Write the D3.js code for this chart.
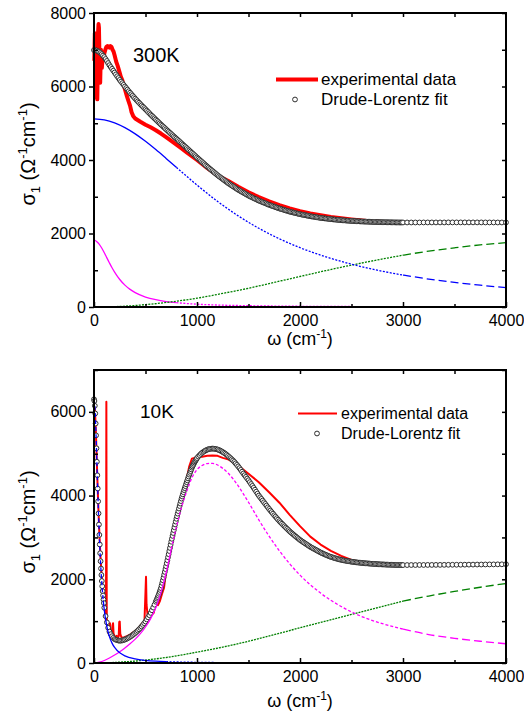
<!DOCTYPE html>
<html>
<head>
<meta charset="utf-8">
<script src="https://cdn.jsdelivr.net/npm/d3@7"></script>
<style>
  body { margin: 0; background: #fff; }
  text { font-family: Arial, "Liberation Sans", sans-serif; fill: #000; }
</style>
</head>
<body>
<svg id="chart" width="524" height="715"></svg>
<script>
// ---------- 300K panel data ----------
var expTopW = [3,8,12,16,20,24,28,32,36,40,44,48,52,56,60,64,68,72,76,80,85,90,95,100,110,120,130,140,150,160,170,180,190,200,215,230,245,260,275,290,305,320,335,350,365,380,400,450,500,550,600,650,700,750,800,850,900,950,1000,1100,1200,1300,1400,1500,1600,1700,1800,1900,2000,2100,2200,2300,2400,2500,2600,2700,2800,2900,3000];
var expTopS = [6700,7450,6600,5700,6900,7300,6200,5650,6400,7500,7700,7600,7000,6300,6100,6600,7000,6800,6500,6650,6850,6750,6800,6900,7000,7080,7100,7090,7060,7100,7080,7000,6950,6850,6680,6560,6420,6270,6170,6020,5880,5730,5600,5480,5300,5200,5130,5040,4960,4890,4810,4720,4620,4520,4420,4315,4210,4105,4000,3780,3580,3435,3270,3120,2990,2875,2770,2680,2605,2545,2495,2450,2413,2382,2352,2328,2313,2303,2300];

// Drude-Lorentz fit: every 12.5 cm-1 below 3000, every 40 cm-1 above
var fitTopW = d3.range(0, 3000, 12.5).concat(d3.range(3000, 4001, 40));
var fitTopS = [
  6990,6987,6980,6962,6940,6911,6880,6842,6800,6748,6695,6638,6580,6530,6480,6430,6380,6330,6280,6230,
  6180,6135,6090,6045,6000,5958,5915,5872,5830,5790,5750,5710,5670,5632,5595,5558,5520,5485,5450,5415,
  5380,5344,5308,5272,5235,5202,5168,5134,5100,5066,5032,4998,4965,4932,4900,4868,4835,4802,4770,4738,
  4705,4674,4642,4611,4580,4548,4516,4484,4452,4420,4388,4356,4325,4293,4261,4229,4197,4165,4133,4102,
  4070,4038,4007,3976,3945,3914,3882,3851,3820,3790,3760,3731,3702,3672,3643,3614,3585,3558,3532,3506,
  3480,3454,3427,3401,3375,3352,3328,3305,3282,3259,3236,3213,3190,3170,3150,3130,3110,3090,3070,3050,
  3030,3013,2996,2979,2962,2946,2929,2912,2895,2880,2866,2852,2838,2824,2809,2794,2780,2768,2755,2742,
  2730,2718,2705,2692,2680,2670,2659,2648,2638,2627,2616,2606,2595,2586,2578,2569,2560,2552,2543,2534,
  2525,2518,2511,2504,2498,2491,2484,2477,2470,2464,2459,2454,2448,2442,2436,2430,2425,2420,2416,2412,
  2408,2404,2399,2394,2390,2386,2383,2380,2376,2373,2370,2366,2363,2360,2358,2355,2352,2350,2347,2344,
  2342,2340,2338,2336,2334,2332,2331,2329,2327,2326,2324,2323,2322,2320,2319,2318,2316,2315,2314,2313,
  2312,2311,2310,2309,2308,2308,2307,2306,2306,2305,2304,2304,2303,2302,2302,2301,2301,2300,2300,2300,
  2300,2300,2300,2300,2300,2301,2301,2301,2301,2301,2301,2302,2302,
  2302,2302,2302,2302,2302,2302,2302,2301,2301,2301,2300,2300,2300];

var drudeTopW = [0,100,200,300,400,500,600,700,800,900,1000,1200,1400,1600,1800,2000,2250,2500,2750,3000,3250,3500,3750,4000];
var drudeTopS = [5120,5092,5011,4881,4711,4508,4283,4044,3800,3556,3318,2873,2480,2142,1856,1614,1366,1165,1002,869,760,669,593,528];
var drude2TopW = [0,25,50,75,100,125,150,175,200,250,300,350,400,500,600,700,800,1000,1250,1500,2000,2500,3000,3500,4000];
var drude2TopS = [1830,1785,1713,1605,1476,1336,1199,1068,950,749,596,479,391,271,198,149,117,76,50,35,20,13,9,7,5];
var lorTopW = [0,250,500,750,1000,1250,1500,1750,2000,2250,2500,2750,3000,3250,3500,3750,4000];
var lorTopS = [0,15,65,140,240,370,510,670,830,990,1140,1280,1410,1520,1610,1690,1750];

// ---------- 10K panel data ----------
var expBotW = [8,12,16,20,24,28,32,36,40,44,48,52,56,60,64,68,72,76,80,84,88,92,96,100,104,108,112,116,118,120,122,124,128,132,136,140,145,150,155,160,165,170,175,180,185,190,200,210,220,230,240,245,250,255,265,280,300,320,350,380,410,440,470,490,500,505,510,520,540,560,580,600,620,640,660,680,700,750,800,850,900,925,950,975,1000,1050,1100,1150,1200,1250,1300,1400,1500,1600,1700,1800,1900,2000,2100,2200,2300,2400,2500,2600,2700,2800,2900,3000];
var expBotS = [6150,5900,5650,5380,5080,4760,4450,4150,3870,3600,3340,3100,2880,2680,2500,2330,2180,2040,1910,1790,1680,1580,1490,1400,1300,1200,1100,1000,3000,6240,3000,960,900,820,760,720,700,680,950,700,640,620,640,900,950,700,640,620,650,600,640,980,990,700,620,600,620,640,680,730,790,860,950,1000,1700,2060,1400,1150,1100,1150,1200,1450,1380,1480,1650,1800,2200,2800,3400,3950,4400,4700,4880,4900,4920,4930,4950,4960,4950,4900,4870,4720,4520,4320,4080,3830,3540,3270,3020,2830,2680,2560,2460,2400,2375,2360,2350,2345];

var fitBotW = d3.range(0, 100, 4)
  .concat(d3.range(100, 600, 12.5))
  .concat(d3.range(600, 1000, 6.25))
  .concat(d3.range(1000, 3000, 12.5))
  .concat(d3.range(3000, 4001, 40));
var fitBotS = [
  // 0 - 96
  6300,6260,6145,5962,5722,5438,5130,4808,4485,4167,3862,3574,3308,3060,2831,2623,2432,2257,2103,1959,1835,1717,1613,1517,1431,
  // 100 - 587.5
  1320,1120,970,840,750,688,640,600,571,555,545,537,532,535,540,549,560,574,590,607,
  626,646,668,692,717,744,773,804,837,872,910,950,992,1040,1090,1142,1197,1260,1325,1393,
  // 600 - 993.75
  1463,1500,1536,1573,1610,1652,1697,1743,1790,1850,1913,1977,2040,2108,2176,2244,
  2312,2384,2456,2528,2600,2675,2749,2824,2898,2967,3037,3106,3175,3243,3310,3378,
  3445,3506,3568,3629,3690,3750,3809,3868,3927,3978,4029,4080,4130,4177,4225,4272,
  4319,4364,4410,4455,4500,4542,4584,4625,4667,4698,4729,4760,4790,4817,4843,4870,
  // 1000 - 2987.5
  4896,4932,4965,4996,5024,5046,5065,5083,5098,5108,5115,5120,5122,5120,5115,5109,5101,5089,5075,5058,
  5040,5021,5000,4976,4949,4922,4895,4867,4838,4805,4770,4734,4697,4656,4614,4570,4527,4487,4447,4407,
  4366,4321,4276,4231,4186,4140,4093,4046,4000,3960,3920,3880,3840,3800,3760,3720,3680,3642,3605,3568,
  3530,3495,3460,3425,3390,3359,3328,3296,3265,3235,3205,3175,3145,3118,3092,3066,3040,3015,2990,2965,
  2940,2919,2898,2878,2857,2836,2816,2796,2775,2758,2741,2724,2708,2691,2674,2657,2640,2626,2612,2598,
  2585,2572,2558,2546,2535,2525,2515,2506,2497,2488,2480,2472,2465,2458,2452,2446,2440,2435,2430,2425,
  2420,2416,2412,2408,2404,2400,2397,2394,2390,2388,2385,2382,2380,2378,2375,2372,2370,2368,2366,2364,
  2362,2360,2358,2356,2355,2354,2352,2350,2349,2348,2347,2346,2345,2344,2343,2342,2342,2341,2341,2340,
  // 3000 - 4000
  2340,2340,2341,2341,2342,2342,2343,2343,2344,2344,2345,2346,2347,
  2347,2348,2349,2350,2351,2352,2353,2354,2355,2356,2357,2358,2360];

var drudeBotW = [0,10,20,30,40,50,60,70,80,90,100,125,150,175,200,250,300,400,500,600,700,800,1000,1500,2000,2500,3000,3500,4000];
var drudeBotS = [6300,6058,5431,4632,3841,3150,2582,2128,1770,1486,1260,869,630,475,371,242,170,97,62,43,32,25,16,7,4,3,2,1,1];
var lorBotW = [0,50,100,150,200,250,300,350,400,450,500,550,600,650,700,750,800,850,900,950,1000,1050,1100,1150,1200,1250,1300,1350,1400,1450,1500,1600,1700,1800,1900,2000,2200,2400,2600,2800,3000,3250,3500,3750,4000];
var lorBotS = [0,20,60,120,190,270,360,460,570,700,860,1060,1320,1680,2150,2720,3250,3720,4100,4420,4620,4720,4765,4770,4730,4650,4540,4400,4230,4040,3840,3420,3030,2680,2370,2100,1670,1350,1110,940,810,680,590,520,460];
var lor2BotW = [0,250,500,750,1000,1250,1500,1750,2000,2250,2500,2750,3000,3250,3500,3750,4000];
var lor2BotS = [0,20,70,150,260,380,520,680,840,1000,1160,1320,1480,1600,1710,1810,1900];

var xTicks = [0,1000,2000,3000,4000];
var legendLabels = ['experimental data', 'Drude-Lorentz fit'];

var svg = d3.select('#chart');

function drawPanel(cfg) {
  var x = d3.scaleLinear().domain([0, 4000]).range([cfg.left, cfg.right]);
  var y = d3.scaleLinear().domain([0, cfg.ymax]).range([cfg.bottom, cfg.top]);
  var g = svg.append('g');
  var line = d3.line().x(function(d) { return x(d[0]); }).y(function(d) { return y(d[1]); });
  var smooth = d3.line().curve(d3.curveMonotoneX).x(function(d) { return x(d[0]); }).y(function(d) { return y(d[1]); });

  // experimental curve
  g.append('path')
    .datum(d3.zip(cfg.expW, cfg.expS))
    .attr('d', line)
    .attr('fill', 'none')
    .attr('stroke', '#ff0000')
    .attr('stroke-width', cfg.expWidth)
    .attr('stroke-linejoin', 'round');

  // fit circles
  g.append('g').selectAll('circle')
    .data(d3.zip(cfg.fitW, cfg.fitS))
    .enter().append('circle')
    .attr('cx', function(d) { return x(d[0]); })
    .attr('cy', function(d) { return y(d[1]); })
    .attr('r', 2.4)
    .attr('fill', '#fff')
    .attr('stroke', '#2e2e2e')
    .attr('stroke-width', 1);

  // Drude / Lorentz components, each in pieces with its own dash style
  cfg.comps.forEach(function(c) {
    var pts = d3.zip(c.w, c.s);
    c.segs.forEach(function(sg) {
      var part = pts.filter(function(d) { return d[0] >= sg[0] && d[0] <= sg[1]; });
      g.append('path')
        .datum(part)
        .attr('d', smooth)
        .attr('fill', 'none')
        .attr('stroke', c.color)
        .attr('stroke-width', 1.3)
        .attr('stroke-dasharray', sg[2]);
    });
  });

  // axes
  var left = g.append('g').attr('transform', 'translate(' + cfg.left + ',0)')
    .call(d3.axisLeft(y).tickValues(cfg.yTicks).tickSizeInner(5).tickSizeOuter(0).tickPadding(3).tickFormat(d3.format('d')));
  left.select('.domain').remove();
  left.selectAll('text').style('font-size', '16px');
  left.selectAll('line').attr('stroke-width', 1.5);

  var leftMinor = g.append('g').attr('transform', 'translate(' + cfg.left + ',0)')
    .call(d3.axisLeft(y).tickValues(cfg.yMinor).tickSizeInner(-4).tickSizeOuter(0).tickFormat(''));
  leftMinor.select('.domain').remove();
  leftMinor.selectAll('line').attr('stroke-width', 1.5);

  var bottom = g.append('g').attr('transform', 'translate(0,' + cfg.bottom + ')')
    .call(d3.axisBottom(x).tickValues(xTicks).tickSizeInner(-5).tickSizeOuter(0).tickPadding(8).tickFormat(d3.format('d')));
  bottom.select('.domain').remove();
  bottom.selectAll('text').style('font-size', '16px');
  bottom.selectAll('line').attr('stroke-width', 1.5);

  var bottomMinor = g.append('g').attr('transform', 'translate(0,' + cfg.bottom + ')')
    .call(d3.axisBottom(x).tickValues([500,1500,2500,3500]).tickSizeInner(-3).tickSizeOuter(0).tickFormat(''));
  bottomMinor.select('.domain').remove();
  bottomMinor.selectAll('line').attr('stroke-width', 1.5);

  var top = g.append('g').attr('transform', 'translate(0,' + cfg.top + ')')
    .call(d3.axisTop(x).tickValues([500,1000,1500,2000,2500,3000,3500]).tickSizeInner(-4).tickSizeOuter(0).tickFormat(''));
  top.select('.domain').remove();
  top.selectAll('line').attr('stroke-width', 1.5);

  var right = g.append('g').attr('transform', 'translate(' + cfg.right + ',0)')
    .call(d3.axisRight(y).tickValues(cfg.yTicks.concat(cfg.yMinor)).tickSizeInner(-4).tickSizeOuter(0).tickFormat(''));
  right.select('.domain').remove();
  right.selectAll('line').attr('stroke-width', 1.5);

  g.append('rect')
    .attr('x', cfg.left).attr('y', cfg.top)
    .attr('width', cfg.right - cfg.left).attr('height', cfg.bottom - cfg.top)
    .attr('fill', 'none').attr('stroke', '#000').attr('stroke-width', 2);

  // temperature label
  g.append('text').attr('x', cfg.tempX).attr('y', cfg.tempY)
    .style('font-size', cfg.tempSize + 'px').text(cfg.temp);

  // legend
  var lg = cfg.legend;
  g.append('line').attr('x1', lg.x0).attr('x2', lg.x1).attr('y1', lg.y).attr('y2', lg.y)
    .attr('stroke', '#ff0000').attr('stroke-width', cfg.expWidth);
  g.append('circle').attr('cx', lg.cx).attr('cy', lg.y + lg.gap)
    .attr('r', 2.4).attr('fill', '#fff').attr('stroke', '#2e2e2e').attr('stroke-width', 1);
  legendLabels.forEach(function(t, i) {
    g.append('text').attr('x', lg.tx).attr('y', lg.y + 5.5 + i * lg.gap)
      .style('font-size', lg.size + 'px').text(t);
  });

  // axis titles
  var xt = g.append('text').attr('x', (cfg.left + cfg.right) / 2).attr('y', cfg.xTitleY)
    .attr('text-anchor', 'middle').style('font-size', '18px');
  xt.append('tspan').text('ω (cm');
  xt.append('tspan').text('-1').attr('dy', -7).style('font-size', '12px');
  xt.append('tspan').text(')').attr('dy', 7);

  var yt = g.append('text')
    .attr('transform', 'translate(35,' + cfg.yTitleY + ') rotate(-90)')
    .attr('text-anchor', 'middle').style('font-size', '20px');
  yt.append('tspan').text('σ');
  yt.append('tspan').text('1').attr('dy', 5).style('font-size', '13px');
  yt.append('tspan').text(' (Ω').attr('dy', -5);
  yt.append('tspan').text('-1').attr('dy', -8).style('font-size', '13px');
  yt.append('tspan').text('cm').attr('dy', 8);
  yt.append('tspan').text('-1').attr('dy', -8).style('font-size', '13px');
  yt.append('tspan').text(')').attr('dy', 8);
}

drawPanel({
  left: 94, right: 506, top: 13, bottom: 307, ymax: 8000,
  yTicks: [0,2000,4000,6000,8000], yMinor: [1000,3000,5000,7000],
  expW: expTopW, expS: expTopS, expWidth: 4,
  fitW: fitTopW, fitS: fitTopS,
  comps: [
    { w: drude2TopW, s: drude2TopS, color: '#ff00ff', segs: [[0,800,null],[800,3000,'2,1.5'],[3000,4000,'8,4']] },
    { w: lorTopW, s: lorTopS, color: '#008000', segs: [[0,3000,'2,1.2'],[3000,4000,'8,4']] },
    { w: drudeTopW, s: drudeTopS, color: '#0000ff', segs: [[0,800,null],[800,3000,'2,1.5'],[3000,4000,'8,4']] }
  ],
  temp: '300K', tempX: 133, tempY: 62, tempSize: 20,
  legend: { x0: 276, x1: 318, cx: 295, y: 79.5, gap: 20, tx: 321, size: 17 },
  xTitleY: 345, yTitleY: 154
});

drawPanel({
  left: 94, right: 506, top: 370, bottom: 663, ymax: 7000,
  yTicks: [0,2000,4000,6000], yMinor: [1000,3000,5000,7000],
  expW: expBotW, expS: expBotS, expWidth: 2,
  fitW: fitBotW, fitS: fitBotS,
  comps: [
    { w: lor2BotW, s: lor2BotS, color: '#008000', segs: [[0,3000,'2,1'],[3000,4000,'8,4']] },
    { w: lorBotW, s: lorBotS, color: '#ff00ff', segs: [[0,750,null],[750,3000,'3,2'],[3000,4000,'8,4']] },
    { w: drudeBotW, s: drudeBotS, color: '#0000ff', segs: [[0,90,'4,3'],[90,700,null],[700,3000,'2,1.5'],[3000,4000,'8,4']] }
  ],
  temp: '10K', tempX: 140, tempY: 418, tempSize: 19,
  legend: { x0: 298, x1: 337, cx: 317, y: 413.5, gap: 20, tx: 341, size: 16 },
  xTitleY: 707, yTitleY: 522
});
</script>
</body>
</html>
